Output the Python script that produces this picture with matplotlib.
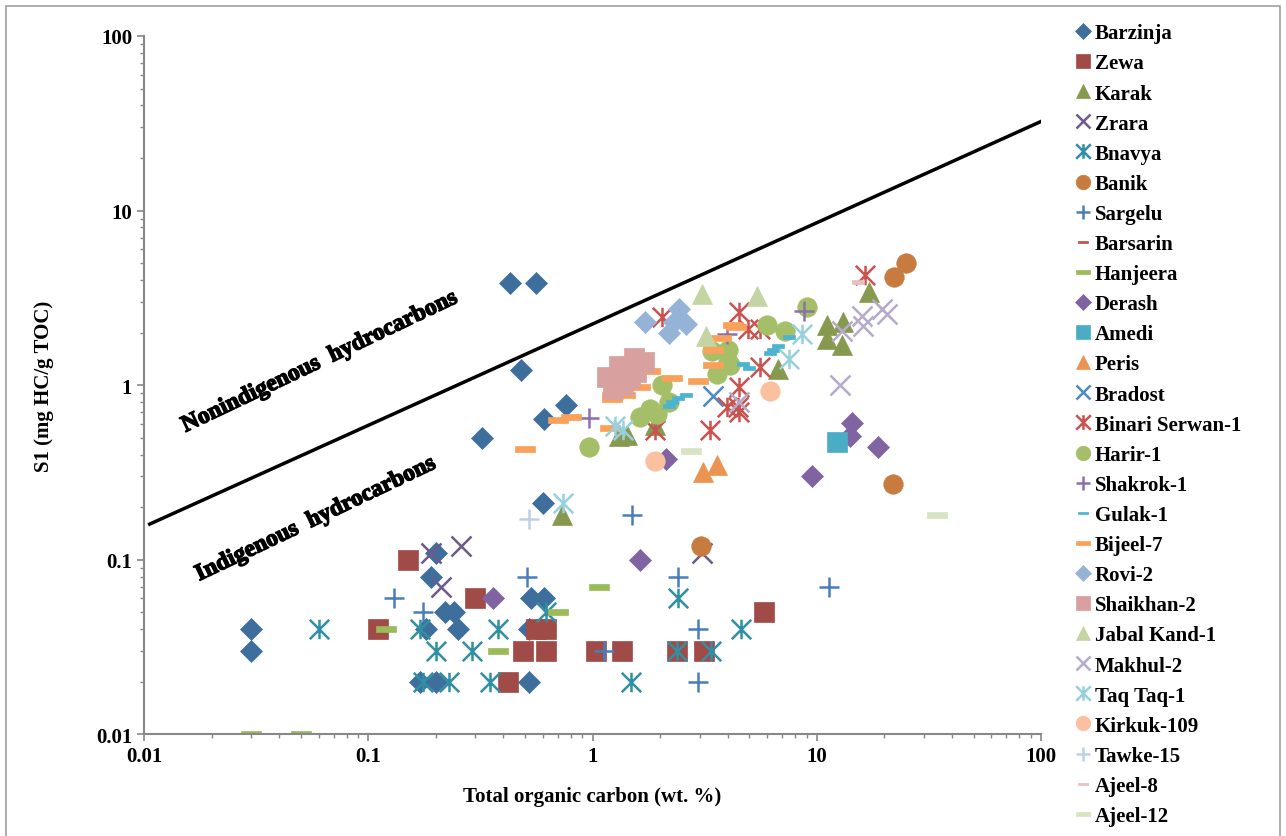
import numpy as np
import matplotlib
matplotlib.use('Agg')
import matplotlib.pyplot as plt
from matplotlib.path import Path
from matplotlib.patches import Rectangle
import matplotlib.patheffects as pe

# данные: TOC (wt.%) и S1 (mg HC/g TOC) по каждой формации / скважине
barzinja_toc = [0.03, 0.03, 0.43, 0.56, 0.48, 0.32, 0.61, 0.76, 0.60, 0.20, 0.19, 0.22, 0.24, 0.25,
                0.18, 0.17, 0.20, 0.53, 0.61, 0.52, 0.52]
barzinja_s1 = [0.04, 0.03, 3.85, 3.85, 1.22, 0.50, 0.64, 0.77, 0.21, 0.11, 0.08, 0.05, 0.05, 0.04,
               0.04, 0.02, 0.02, 0.06, 0.06, 0.04, 0.02]
zewa_toc = [0.15, 0.11, 0.30, 0.56, 0.62, 0.49, 0.62, 1.04, 1.36, 2.38, 3.15, 5.8, 0.42]
zewa_s1 = [0.10, 0.04, 0.06, 0.04, 0.04, 0.03, 0.03, 0.03, 0.03, 0.03, 0.03, 0.05, 0.02]
karak_toc = [0.73, 1.31, 1.42, 1.9, 6.7, 17.1, 11.1, 13.1, 11.1, 13.0]
karak_s1 = [0.18, 0.51, 0.52, 0.59, 1.24, 3.4, 2.21, 2.31, 1.84, 1.70]
zrara_toc = [0.19, 0.26, 0.21, 3.07]
zrara_s1 = [0.11, 0.12, 0.07, 0.11]
bnavya_toc = [0.06, 0.17, 0.20, 0.29, 0.175, 0.23, 0.38, 0.62, 0.35, 1.48, 2.4, 2.38, 3.37, 4.6]
bnavya_s1 = [0.04, 0.04, 0.03, 0.03, 0.02, 0.02, 0.04, 0.05, 0.02, 0.02, 0.06, 0.03, 0.03, 0.04]
banik_toc = [3.05, 25.0, 22.0, 21.8]
banik_s1 = [0.12, 5.0, 4.15, 0.27]
sargelu_toc = [0.13, 0.175, 1.5, 0.51, 2.4, 2.94, 1.13, 2.94, 11.3]
sargelu_s1 = [0.06, 0.05, 0.18, 0.08, 0.08, 0.04, 0.03, 0.02, 0.07]
barsarin_toc = []
barsarin_s1 = []
hanjeera_toc = [0.03, 0.05, 0.12, 1.07, 0.70, 0.38]
hanjeera_s1 = [0.01, 0.01, 0.04, 0.07, 0.05, 0.03]
derash_toc = [1.62, 0.36, 14.4, 14.0, 18.7, 9.5, 2.12]
derash_s1 = [0.10, 0.06, 0.61, 0.51, 0.44, 0.30, 0.38]
amedi_toc = [12.3]
amedi_s1 = [0.47]
peris_toc = [3.12, 3.6]
peris_s1 = [0.32, 0.35]
bradost_toc = [3.46]
bradost_s1 = [0.87]
binari_toc = [2.04, 4.48, 4.96, 5.6, 5.6, 4.48, 3.98, 4.45, 4.5, 3.35, 1.9, 16.4]
binari_s1 = [2.45, 2.61, 2.10, 2.10, 1.27, 0.97, 0.75, 0.75, 0.70, 0.55, 0.55, 4.3]
harir_toc = [0.96, 1.63, 1.8, 1.94, 2.04, 2.2, 3.4, 4.0, 3.6, 4.0, 4.1, 6.0, 7.2, 9.0]
harir_s1 = [0.44, 0.66, 0.73, 0.68, 1.0, 0.80, 1.57, 1.58, 1.16, 1.35, 1.30, 2.22, 2.05, 2.8]
shakrok_toc = [0.96, 3.97, 8.8]
shakrok_s1 = [0.65, 1.97, 2.67]
gulak_toc = [7.5, 6.75, 6.4, 6.2, 4.7, 5.0, 2.6, 2.4, 2.26, 2.2]
gulak_s1 = [1.88, 1.68, 1.58, 1.52, 1.32, 1.25, 0.88, 0.84, 0.80, 0.76]
bijeel_toc = [0.5, 0.7, 0.8, 1.2, 1.22, 1.22, 1.4, 1.63, 1.8, 2.26, 2.95, 3.45, 3.45, 3.75, 4.25, 4.35]
bijeel_s1 = [0.43, 0.63, 0.66, 0.57, 0.88, 0.83, 0.88, 0.98, 1.2, 1.1, 1.06, 1.3, 1.6, 1.86, 2.22, 2.15]
rovi_toc = [1.72, 2.42, 2.2, 2.6, 2.3]
rovi_s1 = [2.29, 2.74, 2.0, 2.24, 2.3]
shaikhan_toc = [1.16, 1.31, 1.53, 1.7, 1.57, 1.37, 1.47, 1.23, 1.34]
shaikhan_s1 = [1.11, 1.29, 1.44, 1.36, 1.19, 1.0, 1.1, 0.95, 1.2]
jabal_toc = [3.07, 5.4, 3.2]
jabal_s1 = [3.33, 3.26, 1.92]
makhul_toc = [12.7, 15.9, 16.0, 19.5, 20.5, 12.9, 4.48]
makhul_s1 = [1.0, 2.5, 2.17, 2.74, 2.56, 2.05, 0.8]
taqtaq_toc = [1.26, 1.37, 0.74, 8.6, 7.5]
taqtaq_s1 = [0.58, 0.55, 0.21, 1.97, 1.41]
kirkuk_toc = [1.9, 6.2]
kirkuk_s1 = [0.37, 0.92]
tawke_toc = [0.52]
tawke_s1 = [0.17]
ajeel8_toc = [15.3]
ajeel8_s1 = [3.9]
ajeel12_toc = [34.5, 2.74]
ajeel12_s1 = [0.18, 0.42]

# граница между автохтонными и аллохтонными УВ
boundary_toc = [0.0106, 100]
boundary_s1 = [0.16, 32.4]

# маркеры в стиле Excel: звёздочка и тире
M, L = Path.MOVETO, Path.LINETO
star = Path([(-1, -1), (1, 1), (-1, 1), (1, -1), (0, -1), (0, 1)], [M, L, M, L, M, L])
dash = Path([(-1, -0.3), (1, -0.3), (1, 0.3), (-1, 0.3), (-1, -0.3)],
            [M, L, L, L, Path.CLOSEPOLY])

# (подпись, toc, s1, маркер, цвет, размер)
series = [
    ('Barzinja', barzinja_toc, barzinja_s1, 'D', '#3D6E9C', 11),
    ('Zewa', zewa_toc, zewa_s1, 's', '#A04B48', 14),
    ('Karak', karak_toc, karak_s1, '^', '#86994E', 14),
    ('Zrara', zrara_toc, zrara_s1, 'x', '#6E5A8C', 14),
    ('Bnavya', bnavya_toc, bnavya_s1, star, '#2F90A3', 14),
    ('Banik', banik_toc, banik_s1, 'o', '#C87B3F', 14),
    ('Sargelu', sargelu_toc, sargelu_s1, '+', '#4A7EBB', 14),
    ('Barsarin', barsarin_toc, barsarin_s1, dash, '#C0504D', 9),
    ('Hanjeera', hanjeera_toc, hanjeera_s1, dash, '#9BBB59', 14),
    ('Derash', derash_toc, derash_s1, 'D', '#8064A2', 11),
    ('Amedi', amedi_toc, amedi_s1, 's', '#4BACC6', 14),
    ('Peris', peris_toc, peris_s1, '^', '#EB9451', 14),
    ('Bradost', bradost_toc, bradost_s1, 'x', '#4A8AC8', 14),
    ('Binari Serwan-1', binari_toc, binari_s1, star, '#C9534F', 14),
    ('Harir-1', harir_toc, harir_s1, 'o', '#A5BE68', 14),
    ('Shakrok-1', shakrok_toc, shakrok_s1, '+', '#8C6FAD', 14),
    ('Gulak-1', gulak_toc, gulak_s1, dash, '#4CB4CF', 9),
    ('Bijeel-7', bijeel_toc, bijeel_s1, dash, '#F9A15A', 14),
    ('Rovi-2', rovi_toc, rovi_s1, 'D', '#95B3D7', 11),
    ('Shaikhan-2', shaikhan_toc, shaikhan_s1, 's', '#D9A0A0', 14),
    ('Jabal Kand-1', jabal_toc, jabal_s1, '^', '#C4D4A3', 14),
    ('Makhul-2', makhul_toc, makhul_s1, 'x', '#B7AACB', 14),
    ('Taq Taq-1', taqtaq_toc, taqtaq_s1, star, '#99D0DE', 14),
    ('Kirkuk-109', kirkuk_toc, kirkuk_s1, 'o', '#FBC0A0', 14),
    ('Tawke-15', tawke_toc, tawke_s1, '+', '#BFD0E6', 14),
    ('Ajeel-8', ajeel8_toc, ajeel8_s1, dash, '#E6BFBF', 9),
    ('Ajeel-12', ajeel12_toc, ajeel12_s1, dash, '#D7E4C2', 14),
]

plt.rcParams['font.family'] = ['Liberation Serif', 'DejaVu Serif']
plt.rcParams['font.weight'] = 'bold'

fig = plt.figure(figsize=(12.86, 8.37), dpi=100)
ax = fig.add_axes([0.112, 0.1215, 0.6975, 0.8343])

line_markers = ('x', '+')
for label, toc, s1, marker, color, size in series:
    hollow = marker in line_markers or marker is star
    ax.plot(toc, s1, linestyle='none', marker=marker, markersize=size,
            color=color, markeredgecolor=color,
            markeredgewidth=1.8 if hollow else 0.5, label=label)

ax.plot(boundary_toc, boundary_s1, color='black', linewidth=2.5)

ax.set_xscale('log')
ax.set_yscale('log')
ax.set_xlim(0.01, 100)
ax.set_ylim(0.01, 100)
ax.set_xticks([0.01, 0.1, 1, 10, 100])
ax.set_xticklabels(['0.01', '0.1', '1', '10', '100'])
ax.set_yticks([0.01, 0.1, 1, 10, 100])
ax.set_yticklabels(['0.01', '0.1', '1', '10', '100'])
ax.tick_params(which='major', labelsize=15, length=5, width=1.2, color='#888888')
ax.tick_params(which='minor', length=3, width=1.0, color='#888888')
for side in ('top', 'right'):
    ax.spines[side].set_visible(False)
for side in ('left', 'bottom'):
    ax.spines[side].set_color('#888888')
    ax.spines[side].set_linewidth(1.5)

ax.set_xlabel('Total organic carbon (wt. %)', fontsize=15, fontweight='bold', labelpad=14)
ax.set_ylabel('S1 (mg HC/g TOC)', fontsize=15, fontweight='bold', labelpad=30)

# подписи областей
effects = [pe.withStroke(linewidth=1.0, foreground='black')]
ax.text(0.061, 1.36, 'Nonindigenous  hydrocarbons', rotation=25.5, fontsize=17,
        ha='center', va='center', fontweight='bold', path_effects=effects)
ax.text(0.0585, 0.171, 'Indigenous  hydrocarbons', rotation=25.5, fontsize=17,
        ha='center', va='center', fontweight='bold', path_effects=effects)

handles, labels = ax.get_legend_handles_labels()
fig.legend(handles, labels, loc='upper left', bbox_to_anchor=(1068 / 1286, 1 - 16 / 837),
           frameon=False, fontsize=15, handlelength=0.6, handletextpad=0.3,
           labelspacing=0.485, borderaxespad=0, markerscale=0.75)

# серая рамка вокруг рисунка
fig.patches.append(Rectangle((6 / 1286, -0.05), 1274 / 1286, 1.05 - 7 / 837,
                             transform=fig.transFigure, fill=False,
                             edgecolor='#A0A0A0', linewidth=1.2))

fig.savefig('out.png', dpi=100)
